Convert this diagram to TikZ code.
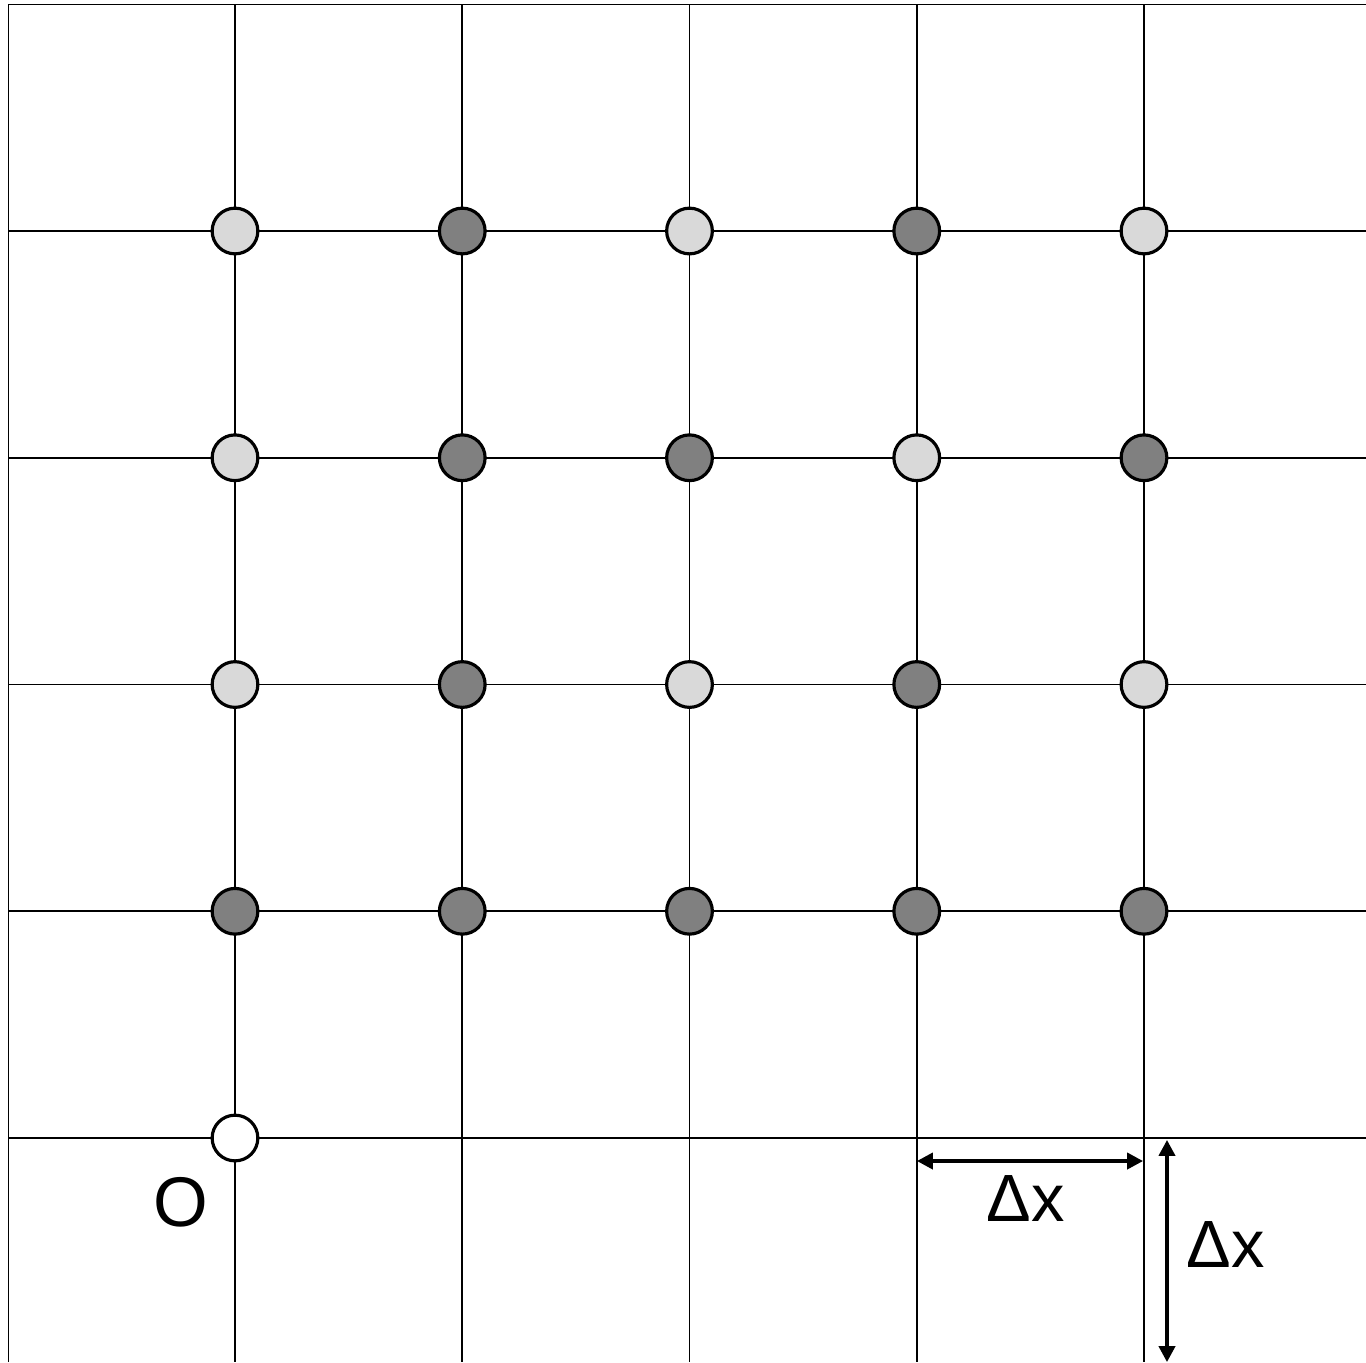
\documentclass[tikz,border=0pt]{standalone}
\usepackage{fontspec}
\setmainfont{Liberation Sans}
\usetikzlibrary{arrows.meta}
\definecolor{lightdot}{HTML}{D9D9D9}
\definecolor{darkdot}{HTML}{808080}
\tikzset{
  gridline/.style={line width=0.55pt, black},
  dot/.style={circle, draw=black, line width=0.9pt, minimum size=13pt, inner sep=0pt},
  lt/.style={dot, fill=lightdot},
  dk/.style={dot, fill=darkdot},
  wt/.style={dot, fill=white},
  dim/.style={line width=0.9pt, {Triangle[length=4.5pt,width=4.6pt]}-{Triangle[length=4.5pt,width=4.6pt]}},
  lbl/.style={inner sep=0pt, font=\fontsize{20}{24}\selectfont},
  dlbl/.style={inner sep=0pt, font=\fontsize{19}{23}\selectfont}
}
\begin{document}
\begin{tikzpicture}[x=0.01cm, y=-0.01cm]
\useasboundingbox (0,0) rectangle (1366,1362);
% border lines
\draw[gridline] (8.5,1362) -- (8.5,4.5) -- (1366,4.5);
% vertical grid lines
\foreach \i in {0,...,4} {
  \draw[gridline] ({235+227.25*\i},4.5) -- ({235+227.25*\i},1362);
}
% horizontal grid lines
\foreach \j in {0,...,4} {
  \draw[gridline] (8.5,{231+226.75*\j}) -- (1366,{231+226.75*\j});
}
% dots: rows top to bottom
\foreach \i/\s in {0/lt,1/dk,2/lt,3/dk,4/lt} {
  \node[\s] (a\i) at ({235+227.25*\i},231) {};
}
\foreach \i/\s in {0/lt,1/dk,2/dk,3/lt,4/dk} {
  \node[\s] (b\i) at ({235+227.25*\i},457.75) {};
}
\foreach \i/\s in {0/lt,1/dk,2/lt,3/dk,4/lt} {
  \node[\s] (c\i) at ({235+227.25*\i},684.5) {};
}
\foreach \i/\s in {0/dk,1/dk,2/dk,3/dk,4/dk} {
  \node[\s] (d\i) at ({235+227.25*\i},911.25) {};
}
\node[wt] (origin) at (235,1138) {};
\node[lbl] (olbl) at (181,1202) {O};
% dimension arrows
\coordinate (h1) at (917,1161);
\coordinate (h2) at (1143,1161);
\draw[dim] (h1) -- (h2);
\node[dlbl] (hlbl) at (1026,1198) {Δx};
\coordinate (v1) at (1167,1140);
\coordinate (v2) at (1167,1362);
\draw[dim] (v1) -- (v2);
\node[dlbl] (vlbl) at (1226,1244) {Δx};
\end{tikzpicture}
\end{document}
